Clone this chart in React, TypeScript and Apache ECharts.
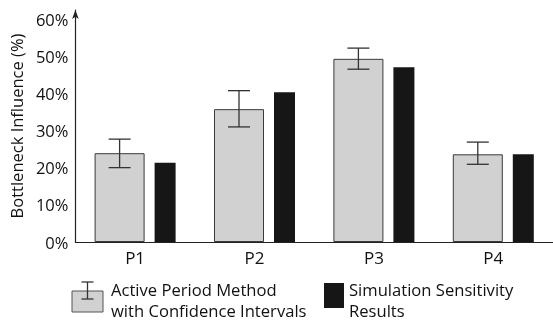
import React, { useEffect, useRef } from 'react';
import * as echarts from 'echarts';

const categories = ['P1', 'P2', 'P3', 'P4'];
const activePeriod = [24.0, 35.9, 49.5, 23.7];
const ciLower = [20.1, 31.1, 46.7, 21.0];
const ciUpper = [27.8, 40.9, 52.4, 27.0];
const simulation = [21.4, 40.5, 47.2, 23.7];
const legendActive = ['Active Period Method', 'with Confidence Intervals'];
const legendSim = ['Simulation Sensitivity', 'Results'];
const yAxisName = 'Bottleneck Influence (%)';

const FONT = 'Open Sans';
const GRAY_W = 50;
const BLACK_W = 21;
const GAP = 0.2;

export default function App() {
  const ref = useRef<HTMLDivElement>(null);
  useEffect(() => {
    if (!ref.current) return;
    const chart = echarts.init(ref.current, undefined, { renderer: 'svg' });
    const groupW = GRAY_W * (1 + GAP) + BLACK_W;
    const grayOffset = -groupW / 2 + GRAY_W / 2;
    const ebStyle = { stroke: '#333', lineWidth: 1.3 };
    const legendText = (x: number, lines: string[]) =>
      lines.map((t, k) => ({
        type: 'text',
        x,
        y: 289 + k * 21,
        style: {
          text: t,
          fontSize: 16.6,
          fill: '#111',
          fontFamily: FONT,
          verticalAlign: 'middle',
        },
      }));
    chart.setOption({
      animation: false,
      textStyle: { fontFamily: FONT },
      grid: { left: 70, right: 0, top: 10, bottom: 79 },
      xAxis: {
        type: 'category',
        data: categories,
        axisTick: { show: false },
        axisLine: { lineStyle: { color: '#222', width: 1.2 } },
        axisLabel: { fontSize: 17, color: '#111', margin: 7, fontFamily: FONT },
      },
      yAxis: {
        type: 'value',
        min: 0,
        max: 62.7,
        interval: 10,
        splitLine: { show: false },
        axisTick: { show: false },
        axisLine: {
          show: true,
          lineStyle: { color: '#222', width: 1.2 },
          symbol: ['none', 'arrow'],
          symbolSize: [5, 9],
        },
        axisLabel: {
          fontSize: 16.5,
          color: '#111',
          margin: 7,
          fontFamily: FONT,
          showMaxLabel: false,
          formatter: (v: number) => (v % 10 === 0 ? `${v}%` : ''),
        },
        name: yAxisName,
        nameLocation: 'middle',
        nameGap: 45,
        nameTextStyle: { fontSize: 16.5, color: '#111', fontFamily: FONT },
      },
      series: [
        {
          type: 'bar',
          name: 'Active Period Method with Confidence Intervals',
          data: activePeriod,
          barWidth: GRAY_W,
          barGap: `${GAP * 100}%`,
          itemStyle: { color: '#d0d1d0', borderColor: '#3a3a3a', borderWidth: 1 },
        },
        {
          type: 'bar',
          name: 'Simulation Sensitivity Results',
          data: simulation,
          barWidth: BLACK_W,
          itemStyle: { color: '#161616' },
        },
        {
          type: 'custom',
          name: 'CI',
          z: 5,
          data: categories.map((_, i) => [i, ciLower[i], ciUpper[i]]),
          encode: { x: 0, y: [1, 2] },
          renderItem: (params: any, api: any) => {
            const i = api.value(0);
            const lo = api.coord([i, api.value(1)]);
            const hi = api.coord([i, api.value(2)]);
            const x = lo[0] + grayOffset;
            const h = 11;
            return {
              type: 'group',
              children: [
                { type: 'line', shape: { x1: x, y1: hi[1], x2: x, y2: lo[1] }, style: ebStyle },
                { type: 'line', shape: { x1: x - h, y1: hi[1], x2: x + h, y2: hi[1] }, style: ebStyle },
                { type: 'line', shape: { x1: x - h, y1: lo[1], x2: x + h, y2: lo[1] }, style: ebStyle },
              ],
            };
          },
        },
      ],
      graphic: [
        { type: 'rect', shape: { x: 72, y: 291, width: 31, height: 21 }, style: { fill: '#d0d1d0', stroke: '#555', lineWidth: 1 } },
        { type: 'line', shape: { x1: 87.5, y1: 282, x2: 87.5, y2: 299 }, style: ebStyle },
        { type: 'line', shape: { x1: 81.5, y1: 282, x2: 93.5, y2: 282 }, style: ebStyle },
        { type: 'line', shape: { x1: 81.5, y1: 299, x2: 93.5, y2: 299 }, style: ebStyle },
        ...legendText(111, legendActive),
        { type: 'rect', shape: { x: 324, y: 283, width: 20, height: 25 }, style: { fill: '#161616' } },
        ...legendText(349, legendSim),
      ],
    });
    return () => chart.dispose();
  }, []);
  return <div ref={ref} style={{ position: 'fixed', left: 0, top: 0, width: 553, height: 321 }} />;
}
